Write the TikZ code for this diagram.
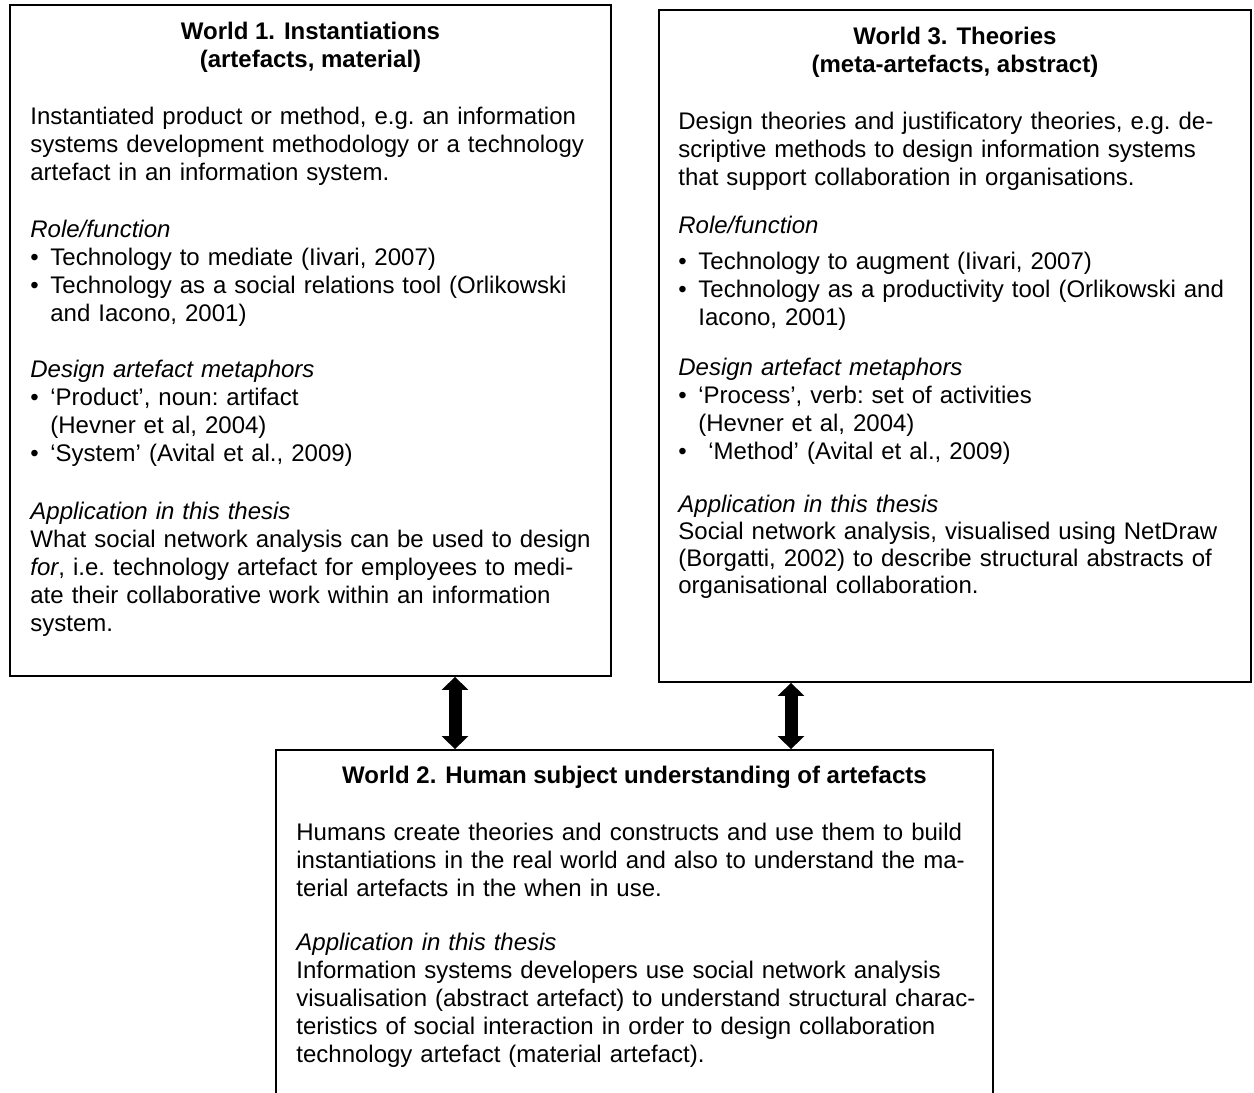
\documentclass[tikz,border=0pt]{standalone}
\usepackage{fontspec}
\setmainfont{Liberation Sans}
\usetikzlibrary{arrows.meta}

\tikzset{
    worldbox/.style={draw, line width=0.9pt, rectangle, inner sep=0pt},
    worldtext/.style={anchor=base west, inner sep=0pt, text width=340pt, align=left,
        font=\fontsize{12pt}{14pt}\selectfont\frenchspacing},
    worldtitle/.style={anchor=base, inner sep=0pt, align=center,
        font=\fontsize{12pt}{14pt}\selectfont\bfseries},
    linkarrow/.style={line width=6.5pt,
        {Triangle[width=13pt,length=6.5pt]}-{Triangle[width=13pt,length=6.5pt]}}
}
\newcommand{\bul}[1][10pt]{\hangindent=10pt\hangafter=1\makebox[#1][l]{•}}

\begin{document}
\begin{tikzpicture}[x=0.5pt, y=-0.5pt]
    \useasboundingbox (0,0) rectangle (1254,1093);
    \clip (0,0) rectangle (1254,1093);

    \node[worldbox, minimum width=300.5pt, minimum height=335.5pt] (w1) at (310.5,340.5) {};
    \node[worldbox, minimum width=296pt, minimum height=336pt] (w3) at (955,346) {};
    \node[worldbox, minimum width=358.5pt, minimum height=180pt] (w2) at (634.5,930) {};

    % World 1
    \node[worldtitle] (w1title) at (310.5,67) {World 1. Instantiations\\(artefacts, material)};
    \node[worldtext] (w1text) at (30,124) {Instantiated product or method, e.g. an information\\
        systems development methodology or a technology\\
        artefact in an information system.};
    \node[worldtext] (w1role) at (30,237) {\textit{Role/function}\par
        \bul Technology to mediate (Iivari, 2007)\par
        \bul Technology as a social relations tool (Orlikowski\newline and Iacono, 2001)\par};
    \node[worldtext] (w1meta) at (30,377) {\textit{Design artefact metaphors}\par
        \bul ‘Product’, noun: artifact\newline (Hevner et al, 2004)\par
        \bul ‘System’ (Avital et al., 2009)\par};
    \node[worldtext] (w1app) at (30,519) {\textit{Application in this thesis}\\
        What social network analysis can be used to design\\
        \textit{for}, i.e. technology artefact for employees to medi-\\
        ate their collaborative work within an information\\
        system.};

    % World 3
    \node[worldtitle] (w3title) at (955,72) {World 3. Theories\\(meta-artefacts, abstract)};
    \node[worldtext] (w3text) at (678,129) {Design theories and justificatory theories, e.g. de-\\
        scriptive methods to design information systems\\
        that support collaboration in organisations.};
    \node[worldtext] (w3role) at (678,233) {\textit{Role/function}\par\vspace{4pt}
        \bul Technology to augment (Iivari, 2007)\par
        \bul Technology as a productivity tool (Orlikowski and\newline Iacono, 2001)\par};
    \node[worldtext] (w3meta) at (678,375) {\textit{Design artefact metaphors}\par
        \bul ‘Process’, verb: set of activities\newline (Hevner et al, 2004)\par
        \bul[15pt]‘Method’ (Avital et al., 2009)\par};
    \node[worldtext, font=\fontsize{12pt}{13.5pt}\selectfont\frenchspacing] (w3app) at (678,512) {\textit{Application in this thesis}\\
        Social network analysis, visualised using NetDraw\\
        (Borgatti, 2002) to describe structural abstracts of\\
        organisational collaboration.};

    % World 2
    \node[worldtitle] (w2title) at (634.5,783) {World 2. Human subject understanding of artefacts};
    \node[worldtext, text width=345pt] (w2text) at (296,840) {Humans create theories and constructs and use them to build\\
        instantiations in the real world and also to understand the ma-\\
        terial artefacts in the when in use.};
    \node[worldtext, text width=345pt] (w2app) at (296,950) {\textit{Application in this thesis}\\
        Information systems developers use social network analysis\\
        visualisation (abstract artefact) to understand structural charac-\\
        teristics of social interaction in order to design collaboration\\
        technology artefact (material artefact).};

    \foreach \from/\xx in {w1/455, w3/791} {
        \coordinate (link\from) at (\xx,0);
        \draw[linkarrow] (\from.south -| link\from) -- (w2.north -| link\from);
    }
\end{tikzpicture}
\end{document}
